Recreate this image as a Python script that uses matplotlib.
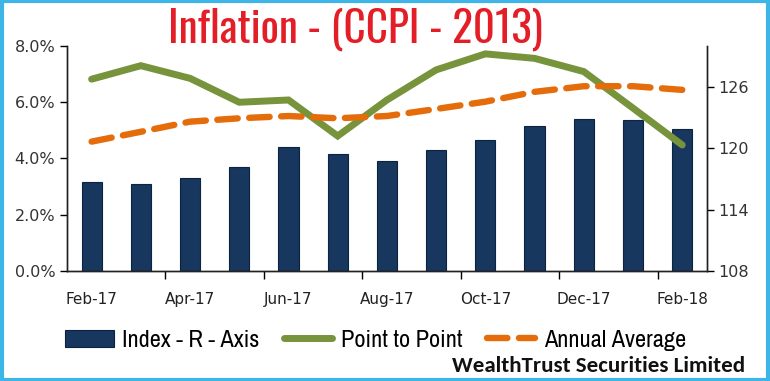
import numpy as np
import matplotlib
matplotlib.use("Agg")
import matplotlib.pyplot as plt
from matplotlib.patches import Rectangle
from matplotlib.ticker import FuncFormatter

months = ["Feb-17", "Mar-17", "Apr-17", "May-17", "Jun-17", "Jul-17", "Aug-17",
          "Sep-17", "Oct-17", "Nov-17", "Dec-17", "Jan-18", "Feb-18"]
index_r = [116.7, 116.5, 117.1, 118.2, 120.1, 119.4, 118.8,
           119.8, 120.8, 122.2, 122.9, 122.8, 121.9]
point_to_point = [6.82, 7.30, 6.85, 6.00, 6.08, 4.80, 6.08,
                  7.15, 7.72, 7.56, 7.09, 5.79, 4.48]
annual_avg = [4.60, 4.95, 5.31, 5.43, 5.51, 5.43, 5.51,
              5.76, 6.02, 6.37, 6.57, 6.57, 6.44]

NAVY = "#17375E"
GREEN = "#77933C"
ORANGE = "#E46C0A"
TITLE_FONT = ["Oswald", "Fjalla One", "Roboto Condensed", "DejaVu Sans"]
NARROW = ["Arial Narrow", "Liberation Sans Narrow", "Archivo Narrow", "PT Sans Narrow",
          "Roboto Condensed", "DejaVu Sans"]
CALIBRI = ["Carlito", "Lato", "DejaVu Sans"]

fig = plt.figure(figsize=(7.7, 3.81), dpi=100)
ax1 = fig.add_axes([0.087, 0.2887, 0.831, 0.5906])
ax2 = ax1.twinx()
ax1.set_zorder(ax2.get_zorder() + 1)
ax1.patch.set_visible(False)

x = np.arange(len(months))
bars = ax2.bar(x, index_r, width=0.41, color=NAVY, edgecolor="#0d2440",
               linewidth=0.8, label="Index - R - Axis")
ax2.set_ylim(108, 130)
ax2.set_yticks([108, 114, 120, 126])

l1, = ax1.plot(x, point_to_point, color=GREEN, lw=5, solid_capstyle="round",
               solid_joinstyle="miter", label="Point to Point")
l2, = ax1.plot(x, annual_avg, color=ORANGE, lw=4.6, dashes=(3.2, 1.8),
               dash_capstyle="round", label="Annual Average")
ax1.set_ylim(0, 8)
ax1.set_yticks([0, 2, 4, 6, 8])
ax1.yaxis.set_major_formatter(FuncFormatter(lambda v, p: f"{v:.1f}%"))
ax1.set_xlim(-0.5, len(months) - 0.5)

# labels on every second month, tick marks between categories
ax1.set_xticks(x[::2])
ax1.set_xticklabels(months[::2])
ax1.set_xticks(np.arange(1.5, 12, 2), minor=True)
ax1.tick_params(axis="x", which="major", length=0, pad=15, labelsize=11, colors="#222222")
ax1.tick_params(axis="x", which="minor", length=6, width=1, direction="out")
ax1.tick_params(axis="y", length=5, width=1, labelsize=11.5, labelcolor="#333333")
ax2.tick_params(axis="y", length=5, width=1, labelsize=11.5, labelcolor="#333333")

for a in (ax1, ax2):
    a.spines["top"].set_visible(False)
    for s in ("left", "right", "bottom"):
        a.spines[s].set_color("#222222")
        a.spines[s].set_linewidth(1)

fig.text(0.461, 0.924, "Inflation - (CCPI - 2013)", ha="center", va="center",
         color="#E41E26", fontsize=31, fontweight="bold", family=TITLE_FONT)

fig.legend(handles=[bars, l1, l2], loc="center left", bbox_to_anchor=(0.056, 0.107),
           ncol=3, frameon=False, prop={"family": NARROW, "size": 17.5},
           handlelength=2.0, handletextpad=0.35, columnspacing=1.0)

fig.text(0.968, 0.04, "WealthTrust Securities Limited", ha="right", va="center",
         fontsize=16.5, fontweight="bold", family=CALIBRI, color="#111111")

fig.patches.append(Rectangle((0.002, 0.003), 0.996, 0.994, transform=fig.transFigure,
                             fill=False, edgecolor="#3DB5E6", linewidth=3))

fig.savefig("out.png", dpi=100)
